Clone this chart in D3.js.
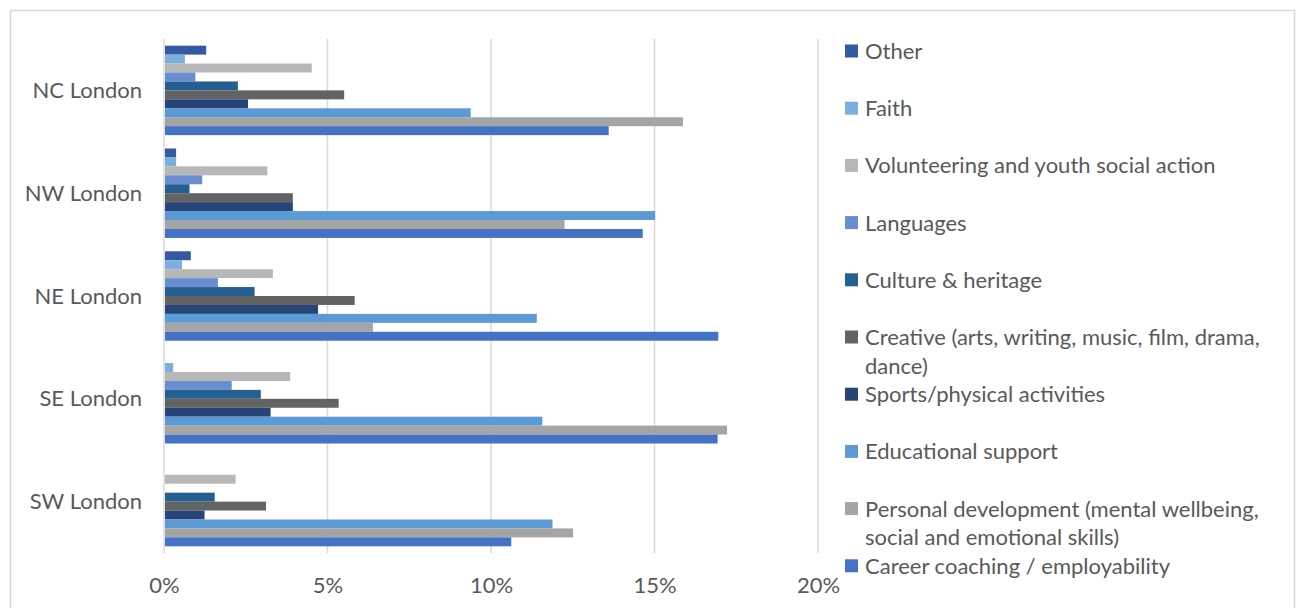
<!DOCTYPE html>
<html><head><meta charset="utf-8">
<script src="https://cdn.jsdelivr.net/npm/d3@7"></script>
<style>html,body{margin:0;padding:0;background:#fff;}svg{display:block;}</style>
</head><body>
<svg id="chart" width="1300" height="608"></svg>
<script>
// ---- data ----
const categories = ["NC London", "NW London", "NE London", "SE London", "SW London"];
const seriesNames = [
  "Other",
  "Faith",
  "Volunteering and youth social action",
  "Languages",
  "Culture & heritage",
  "Creative (arts, writing, music, film, drama, dance)",
  "Sports/physical activities",
  "Educational support",
  "Personal development (mental wellbeing, social and emotional skills)",
  "Career coaching / employability"
];
const other        = [1.29, 0.37, 0.82, 0, 0];
const faith        = [0.64, 0.37, 0.55, 0.28, 0];
const volunteering = [4.52, 3.16, 3.33, 3.86, 2.19];
const languages    = [0.96, 1.17, 1.65, 2.07, 0];
const culture      = [2.26, 0.78, 2.77, 2.96, 1.55];
const creative     = [5.51, 3.94, 5.83, 5.34, 3.12];
const sports       = [2.57, 3.94, 4.71, 3.26, 1.24];
const educational  = [9.38, 15.02, 11.40, 11.57, 11.88];
const personal     = [15.87, 12.25, 6.39, 17.22, 12.51];
const career       = [13.60, 14.64, 16.95, 16.93, 10.62];
const xTicks = [0, 5, 10, 15, 20];
const legendLines = [
  ["Other"], ["Faith"], ["Volunteering and youth social action"], ["Languages"],
  ["Culture & heritage"], ["Creative (arts, writing, music, film, drama,", "dance)"],
  ["Sports/physical activities"], ["Educational support"],
  ["Personal development (mental wellbeing,", "social and emotional skills)"],
  ["Career coaching / employability"]
];

const seriesValues = [other, faith, volunteering, languages, culture, creative, sports, educational, personal, career];
const colors = ["#335AA1", "#7CAFDD", "#B7B7B7", "#698ED0", "#255E91", "#636363", "#264478", "#5B9BD5", "#A5A5A5", "#4472C4"];

// ---- layout ----
const svg = d3.select("#chart");
const FONT = "Lato, 'Open Sans', 'Noto Sans', sans-serif";
const textColor = "#595959";
const gridColor = "#D9D9D9";

// fit font size to reference width of a legend string
const probe = svg.append("text").attr("font-family", FONT).attr("font-size", 100).text("Volunteering and youth social action");
const w100 = probe.node().getComputedTextLength();
probe.remove();
const fs = Math.max(14, Math.min(22, 100 * 355 / w100));

// outer border
svg.append("rect").attr("x", 10.5).attr("y", 10.5).attr("width", 1284).attr("height", 620)
  .attr("fill", "none").attr("stroke", gridColor).attr("stroke-width", 1.5);

const plot = {left: 164, right: 818, top: 39, bottom: 553};
const x = d3.scaleLinear().domain([0, 20]).range([plot.left, plot.right]);
const y0 = d3.scaleBand().domain(categories).range([plot.top, plot.bottom]).paddingInner(0.13).paddingOuter(0.065);
const y1 = d3.scaleBand().domain(seriesNames).range([0, y0.bandwidth()]);

// gridlines
svg.append("g").selectAll("line").data(xTicks).join("line")
  .attr("x1", d => x(d)).attr("x2", d => x(d))
  .attr("y1", plot.top).attr("y2", plot.bottom)
  .attr("stroke", gridColor).attr("stroke-width", 1.5);

// bars
const groups = svg.append("g").selectAll("g").data(categories).join("g")
  .attr("transform", d => `translate(0,${y0(d)})`);
groups.selectAll("rect").data((c, ci) => seriesNames.map((s, si) => ({s, si, v: seriesValues[si][ci]})))
  .join("rect")
  .attr("x", x(0) + 1)
  .attr("y", d => y1(d.s))
  .attr("height", y1.bandwidth())
  .attr("width", d => d.v > 0 ? Math.max(0, x(d.v) - x(0) - 1) : 0)
  .attr("fill", d => colors[d.si]);

// category labels
svg.append("g").selectAll("text").data(categories).join("text")
  .attr("x", 142).attr("y", d => y0(d) + y0.bandwidth() / 2 + 2)
  .attr("text-anchor", "end").attr("dominant-baseline", "middle")
  .attr("font-family", FONT).attr("font-size", fs).attr("fill", textColor)
  .text(d => d);

// x axis tick labels
const xAxis = d3.axisBottom(x).tickValues(xTicks).tickFormat(d => d + "%").tickSize(0).tickPadding(0);
const ax = svg.append("g").attr("transform", `translate(0,${plot.bottom + 24})`).call(xAxis);
ax.select(".domain").remove();
ax.selectAll("text").attr("font-family", FONT).attr("font-size", fs).attr("fill", textColor);

// legend
const legendTop = 51, legendStep = 57.2, lineH = 28.5;
const lg = svg.append("g").selectAll("g").data(seriesNames).join("g")
  .attr("transform", (d, i) => `translate(845,${legendTop + i * legendStep})`);
lg.append("rect").attr("x", 0).attr("y", -6.5).attr("width", 13).attr("height", 13)
  .attr("fill", (d, i) => colors[i]);
lg.append("text").attr("font-family", FONT).attr("font-size", fs).attr("fill", textColor)
  .attr("dominant-baseline", "middle")
  .selectAll("tspan").data((d, i) => legendLines[i]).join("tspan")
  .attr("x", 20).attr("y", (d, j) => j * lineH + 2)
  .text(d => d);
</script>
</body></html>
